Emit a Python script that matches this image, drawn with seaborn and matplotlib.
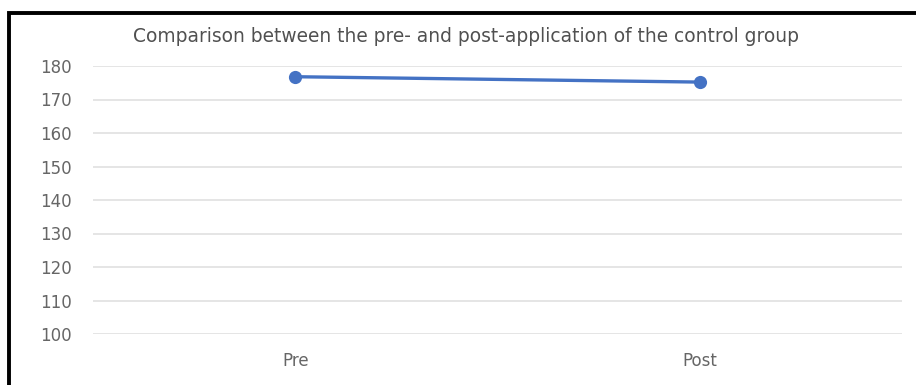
import matplotlib
matplotlib.use("Agg")
import matplotlib.pyplot as plt
from matplotlib.patches import Rectangle
import seaborn as sns
import pandas as pd

# Mean scores of the control group before and after the application
phases = ["Pre", "Post"]
scores = [176.8, 175.2]
y_ticks = [100, 110, 120, 130, 140, 150, 160, 170, 180]
title = "Comparison between the pre- and post-application of the control group"

df = pd.DataFrame({"phase": phases, "score": scores})

sns.set_theme(style="white")
plt.rcParams["font.family"] = ["DejaVu Sans"]

W, H = 916, 385
fig = plt.figure(figsize=(W / 100, H / 100), dpi=100)
fig.patch.set_facecolor("white")

left, right, top, bottom = 93, 902, 66, 334
ax = fig.add_axes([left / W, 1 - bottom / H, (right - left) / W, (bottom - top) / H])

sns.lineplot(data=df, x="phase", y="score", ax=ax, color="#4472C4",
             linewidth=2.4, marker="o", markersize=9.5, markeredgewidth=0,
             sort=False)

ax.set_xlim(-0.5, 1.5)
ax.set_ylim(100, 180)
ax.set_yticks(y_ticks)
ax.set_yticklabels([str(v) for v in y_ticks])
ax.yaxis.grid(True, color="#e3e3e3", linewidth=1.3)
ax.set_axisbelow(True)
for s in ax.spines.values():
    s.set_visible(False)
ax.tick_params(axis="y", length=0, pad=15, labelsize=12, labelcolor="#666666")
ax.tick_params(axis="x", length=0, pad=13, labelsize=12, labelcolor="#666666")
ax.set_xlabel("")
ax.set_ylabel("")

fig.text(466 / W, 1 - 37 / H, title, ha="center", va="center",
         fontsize=13.4, color="#505050")

# outer chart frame (top and left edges visible)
fig.patches.append(Rectangle((8.5 / W, -0.1), 1.2, 1 - 13 / H + 0.1,
                             transform=fig.transFigure, fill=False,
                             edgecolor="black", linewidth=2.8))

fig.savefig("out.png", dpi=100, facecolor="white")
